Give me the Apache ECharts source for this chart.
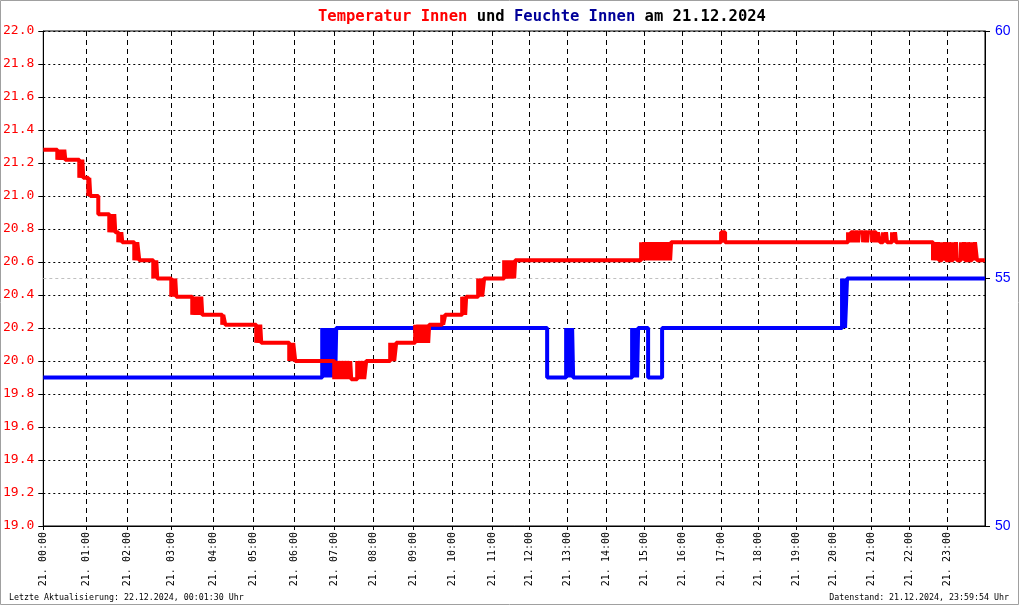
<!DOCTYPE html>
<html><head><meta charset="utf-8">
<script src="https://cdn.jsdelivr.net/npm/echarts@6/dist/echarts.min.js"></script>
<style>html,body{margin:0;padding:0;background:#fff}#c{width:1020px;height:606px}</style>
</head><body><div id="c"></div>
<script>
// x = record index within the day (first record of each hour below)
const hourIdx = [0,43,84,128,170,210,251,291,330,370,409,449,486,524,563,601,639,678,715,753,790,828,866,904];
const hourLabels = ['21. 00:00','21. 01:00','21. 02:00','21. 03:00','21. 04:00','21. 05:00','21. 06:00','21. 07:00','21. 08:00','21. 09:00','21. 10:00','21. 11:00','21. 12:00','21. 13:00','21. 14:00','21. 15:00','21. 16:00','21. 17:00','21. 18:00','21. 19:00','21. 20:00','21. 21:00','21. 22:00','21. 23:00'];
const lastIdx = 942;

// Temperatur Innen [record index, °C]
const tempData = [
[0,21.28],[14,21.22],[15,21.28],[17,21.22],[18,21.28],[20,21.22],[21,21.28],[22,21.22],
[36,21.11],[37,21.22],[38,21.11],[39,21.22],[40,21.11],
[45,21.00],[46,21.11],[47,21.00],
[55,20.89],
[66,20.78],[67,20.89],[68,20.78],[69,20.89],[70,20.78],[71,20.89],[72,20.78],
[75,20.72],[76,20.78],[77,20.72],[78,20.78],[79,20.72],
[91,20.61],[92,20.72],[93,20.61],[94,20.72],[96,20.61],
[110,20.50],[111,20.61],[112,20.50],[113,20.61],[114,20.50],
[128,20.39],[129,20.50],[131,20.39],[132,20.50],[133,20.39],
[149,20.28],[150,20.39],[152,20.28],[153,20.39],[155,20.28],[156,20.39],[157,20.28],[158,20.39],[159,20.28],
[179,20.22],[180,20.28],[182,20.22],
[213,20.11],[214,20.22],[216,20.11],[217,20.22],[218,20.11],
[246,20.00],[247,20.11],[249,20.00],[250,20.11],[252,20.00],
[291,19.89],[292,20.00],[294,19.89],[295,20.00],[297,19.89],[298,20.00],[300,19.89],[301,20.00],[303,19.89],[304,20.00],[306,19.89],[307,20.00],[308,19.89],[314,20.00],[315,19.89],[317,20.00],[318,19.89],[320,20.00],[321,19.89],[323,20.00],
[347,20.11],[348,20.00],[350,20.11],[351,20.00],[353,20.11],
[372,20.22],[373,20.11],[375,20.22],[376,20.11],[378,20.22],[379,20.11],[381,20.22],[382,20.11],[384,20.22],[385,20.11],[386,20.22],
[399,20.28],[400,20.22],[402,20.28],
[419,20.39],[420,20.28],[421,20.39],[422,20.28],[423,20.39],
[435,20.50],[436,20.39],[438,20.50],[439,20.39],[441,20.50],
[461,20.61],[462,20.50],[464,20.61],[466,20.50],[467,20.61],[469,20.50],[470,20.61],[471,20.50],[472,20.61],
[598,20.72],[600,20.61],[601,20.72],[603,20.61],[604,20.72],[606,20.61],[607,20.72],[609,20.61],[610,20.72],[612,20.61],[613,20.72],[615,20.61],[616,20.72],[618,20.61],[619,20.72],[621,20.61],[622,20.72],[624,20.61],[625,20.72],[627,20.61],[628,20.72],
[678,20.78],[682,20.72],
[805,20.78],[807,20.72],[808,20.78],[811,20.72],[812,20.78],[815,20.72],[816,20.78],[820,20.72],[821,20.78],[824,20.72],[825,20.78],[829,20.72],[830,20.78],[833,20.72],[835,20.78],[837,20.72],[840,20.78],[841,20.72],[843,20.78],[844,20.72],[849,20.78],[850,20.72],[852,20.78],[853,20.72],
[890,20.61],[892,20.72],[893,20.61],[895,20.72],[896,20.61],[899,20.72],[900,20.61],[902,20.72],[903,20.61],[906,20.72],[907,20.61],[910,20.72],[911,20.61],[913,20.72],[914,20.61],[918,20.72],[919,20.61],[921,20.72],[922,20.61],[925,20.72],[926,20.61],[929,20.72],[930,20.61],[932,20.72],[934,20.61],
[942,20.61]
];

// Feuchte Innen [record index, %]
const humData = [
[0,53],[279,54],[280,53],[281,54],[282,53],[283,54],[284,53],[285,54],[286,53],[287,54],[289,53],[290,54],[292,53],[293,54],
[504,53],[523,54],[524,53],[525,54],[526,53],[527,54],[528,53],[529,54],[530,53],
[589,54],[590,53],[591,54],[592,53],[593,54],[594,53],[595,54],
[605,53],[619,54],
[799,55],[800,54],[801,55],[802,54],[804,55],
[942,55]
];

const MONO = '"DejaVu Sans Mono", "Liberation Mono", monospace';
const chart = echarts.init(document.getElementById('c'), null, {renderer:'canvas'});
chart.setOption({
  animation: false,
  backgroundColor: '#fff',
  title: {
    left: 313, top: 4,
    text: '{r|Temperatur Innen }{k|und }{b|Feuchte Innen }{k|am 21.12.2024}',
    textStyle: {
      fontFamily: MONO, fontSize: 15.5, fontWeight: 'bold',
      rich: {
        r: {color:'#ff0000', fontFamily: MONO, fontSize: 15.5, fontWeight:'bold'},
        k: {color:'#000000', fontFamily: MONO, fontSize: 15.5, fontWeight:'bold'},
        b: {color:'#000099', fontFamily: MONO, fontSize: 15.5, fontWeight:'bold'}
      }
    }
  },
  graphic: [
    {type:'rect', z:-10, silent:true, shape:{x:0.5,y:0.5,width:1018,height:604}, style:{fill:'none', stroke:'#a0a0a0', lineWidth:1}},
    {type:'text', left:9, top:594, silent:true, style:{text:'Letzte Aktualisierung: 22.12.2024, 00:01:30 Uhr', font:'8.3px ' + MONO, fill:'#000'}},
    {type:'text', right:11, top:594, silent:true, style:{text:'Datenstand: 21.12.2024, 23:59:54 Uhr', font:'8.3px ' + MONO, fill:'#000'}}
  ],
  grid: {left:43, right:35, top:31, bottom:80, show:true, borderColor:'#000', borderWidth:1, backgroundColor:'#fff'},
  xAxis: {
    type:'value', min:0, max:lastIdx,
    axisLine:{show:true, lineStyle:{color:'#000', width:1}},
    axisTick:{show:true, length:4, lineStyle:{color:'#000'}, customValues: hourIdx},
    axisLabel:{
      customValues: hourIdx, rotate:90, margin:6, color:'#000', fontFamily: MONO, fontSize:10,
      formatter: v => { const i = hourIdx.indexOf(v); return i >= 0 ? hourLabels[i] : ''; }
    },
    splitLine:{show:true, lineStyle:{color:'#000', width:1, type:[5,4]}}
  },
  yAxis: [
    {
      type:'value', min:19, max:22, interval:0.2, position:'left',
      axisLine:{show:true, lineStyle:{color:'#000', width:1}},
      axisTick:{show:true, length:5, lineStyle:{color:'#000'}},
      axisLabel:{color:'#ff0000', fontFamily: MONO, fontSize:13, margin:9, formatter: v => v.toFixed(1)},
      splitLine:{show:true, lineStyle:{color:'#000', width:1, type:[2,3]}}
    },
    {
      type:'value', min:50, max:60, interval:5, position:'right',
      axisLine:{show:true, lineStyle:{color:'#000', width:1}},
      axisTick:{show:true, length:5, lineStyle:{color:'#000'}},
      axisLabel:{color:'#0000ff', fontFamily:'"Liberation Sans", Arial, sans-serif', fontSize:14, margin:10},
      splitLine:{show:false}
    }
  ],
  series: [
    {
      name:'Feuchte Innen', type:'line', yAxisIndex:1, step:'end', showSymbol:false, data: humData,
      lineStyle:{color:'#0000ff', width:4, cap:'butt', join:'bevel'}, z:3,
      markLine:{silent:true, symbol:'none', z:1, label:{show:false}, lineStyle:{color:'#c0c0c0', width:1, type:[3,3]}, data:[{yAxis:55}]}
    },
    {
      name:'Temperatur Innen', type:'line', yAxisIndex:0, step:'end', showSymbol:false, data: tempData,
      lineStyle:{color:'#ff0000', width:4, cap:'butt', join:'bevel'}, z:4
    }
  ]
});
</script></body></html>
